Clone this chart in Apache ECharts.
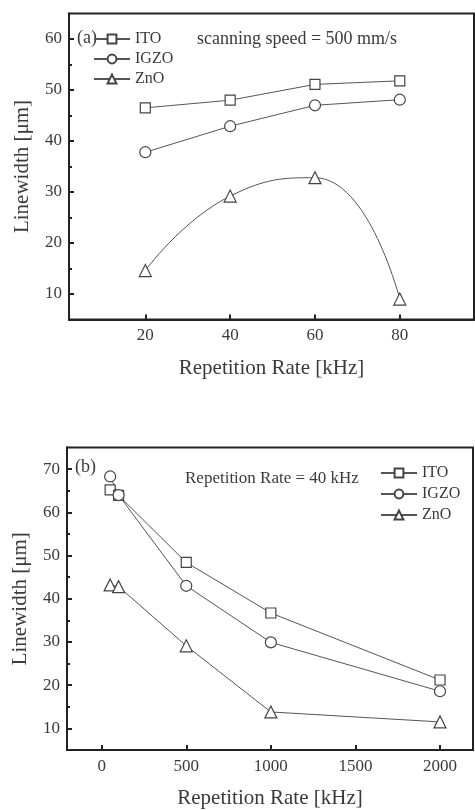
<!DOCTYPE html>
<html><head><meta charset="utf-8">
<script src="https://cdn.jsdelivr.net/npm/echarts@6/dist/echarts.min.js"></script>
<style>html,body{margin:0;padding:0;background:#fff}#c{width:475px;height:810px}</style>
</head><body><div id="c"></div>
<script>
// Panel (a): scanning speed = 500 mm/s
const rateA = [20, 40, 60, 80];
const itoA = [46.5, 48.0, 51.1, 51.8];
const igzoA = [37.8, 42.9, 47.0, 48.1];
const znoA = [14.6, 29.2, 32.8, 9.0];
const xTicksA = [20, 40, 60, 80];
const yTicksA = [10, 20, 30, 40, 50, 60];
const yMinorA = [15, 25, 35, 45, 55];
// Panel (b): repetition rate = 40 kHz
const rateB = [50, 100, 500, 1000, 2000];
const itoB = [65.2, 63.9, 48.4, 36.7, 21.2];
const igzoB = [68.3, 64.0, 43.0, 29.9, 18.6];
const znoB = [43.2, 42.8, 29.1, 13.8, 11.5];
const xTicksB = [0, 500, 1000, 1500, 2000];
const yTicksB = [10, 20, 30, 40, 50, 60, 70];
const yMinorB = [15, 25, 35, 45, 55, 65];
const names = ['ITO', 'IGZO', 'ZnO'];

const FONT = '"Liberation Serif", "DejaVu Serif", serif';
const AX = '#222', TXT = '#3a3a3a', LN = '#555';
const zip = (xs, ys) => xs.map((x, i) => [x, ys[i]]);

function xAxis(grid, min, max, ticks, name) {
  return {
    type: 'value', gridIndex: grid, min, max, name,
    nameLocation: 'middle', nameGap: 38,
    nameTextStyle: { fontFamily: FONT, fontSize: 21, color: TXT },
    axisLine: { show: true, onZero: false, lineStyle: { color: AX, width: 2 } },
    axisTick: { show: true, inside: true, length: 5, customValues: ticks, lineStyle: { color: AX, width: 2 } },
    axisLabel: { customValues: ticks, formatter: v => String(v), fontFamily: FONT, fontSize: 17, color: TXT, margin: 8 },
    splitLine: { show: false }
  };
}
function yAxis(grid, min, max, ticks, name) {
  return {
    type: 'value', gridIndex: grid, min, max, name,
    nameLocation: 'middle', nameGap: 36,
    nameTextStyle: { fontFamily: FONT, fontSize: 21, color: TXT },
    axisLine: { show: true, onZero: false, lineStyle: { color: AX, width: 2 } },
    axisTick: { show: true, inside: true, length: 5, customValues: ticks, lineStyle: { color: AX, width: 2 } },
    axisLabel: { customValues: ticks, formatter: v => String(v), fontFamily: FONT, fontSize: 17, color: TXT, margin: 7 },
    splitLine: { show: false }
  };
}
function yMinor(grid, min, max, ticks) {
  return {
    type: 'value', gridIndex: grid, min, max, position: 'left',
    axisLine: { show: false, onZero: false },
    axisTick: { show: true, inside: true, length: 3, customValues: ticks, lineStyle: { color: AX, width: 2 } },
    axisLabel: { show: false }, splitLine: { show: false }
  };
}
const symbols = { ITO: ['rect', 10], IGZO: ['circle', 11], ZnO: ['triangle', 12] };
function series(name, data, xi, yi, smooth) {
  return {
    type: 'line', name, data, xAxisIndex: xi, yAxisIndex: yi, smooth: smooth || false,
    symbol: symbols[name][0], symbolSize: symbols[name][1], showAllSymbol: true,
    lineStyle: { color: LN, width: 1 },
    itemStyle: { color: '#fff', borderColor: '#444', borderWidth: 1.2 },
    emphasis: { disabled: true }, animation: false
  };
}
const legendBase = {
  orient: 'vertical', data: names, itemWidth: 36, itemHeight: 11, padding: 0,
  textStyle: { fontFamily: FONT, fontSize: 16, color: TXT }, selectedMode: false
};

const chart = echarts.init(document.getElementById('c'));
chart.setOption({
  backgroundColor: '#fff',
  animation: false,
  grid: [
    { left: 69, top: 13.5, right: 1, bottom: 810 - 319.5, show: true, borderColor: AX, borderWidth: 2 },
    { left: 67, top: 447.5, right: 2, bottom: 810 - 752.5, show: true, borderColor: AX, borderWidth: 2 }
  ],
  xAxis: [
    xAxis(0, 2, 97.5, xTicksA, 'Repetition Rate [kHz]'),
    xAxis(1, -205, 2195, xTicksB, 'Repetition Rate [kHz]')
  ],
  yAxis: [
    yAxis(0, 5, 65, yTicksA, 'Linewidth [μm]'),
    yMinor(0, 5, 65, yMinorA),
    yAxis(1, 5, 75, yTicksB, 'Linewidth [μm]'),
    yMinor(1, 5, 75, yMinorB)
  ],
  legend: [
    Object.assign({}, legendBase, { left: 93, top: 31, itemGap: 4 }),
    Object.assign({}, legendBase, { left: 380, top: 465, itemGap: 5 })
  ],
  graphic: [
    { type: 'text', left: 77, top: 29, style: { text: '(a)', font: '18px ' + FONT, fill: TXT } },
    { type: 'text', left: 197, top: 30, style: { text: 'scanning speed = 500 mm/s', font: '18px ' + FONT, fill: TXT } },
    { type: 'text', left: 75, top: 458, style: { text: '(b)', font: '18px ' + FONT, fill: TXT } },
    { type: 'text', left: 185, top: 470, style: { text: 'Repetition Rate = 40 kHz', font: '17px ' + FONT, fill: TXT } }
  ],
  series: [
    series('ITO', zip(rateA, itoA), 0, 0),
    series('IGZO', zip(rateA, igzoA), 0, 0),
    series('ZnO', zip(rateA, znoA), 0, 0, 0.5),
    series('ITO', zip(rateB, itoB), 1, 2),
    series('IGZO', zip(rateB, igzoB), 1, 2),
    series('ZnO', zip(rateB, znoB), 1, 2)
  ]
});
</script></body></html>
